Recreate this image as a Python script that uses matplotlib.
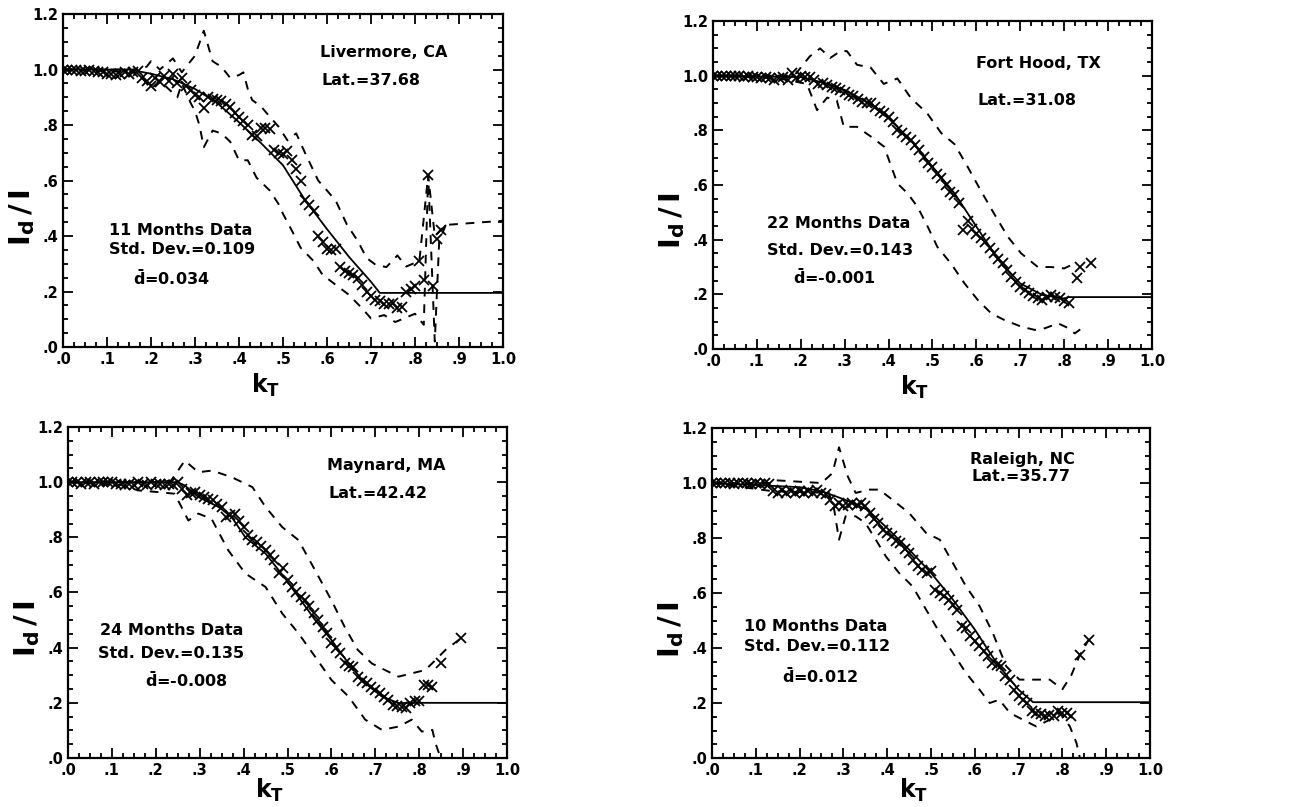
import matplotlib.pyplot as plt
from matplotlib.ticker import MultipleLocator, FuncFormatter

plt.rcParams['font.family'] = ['DejaVu Sans']
plt.rcParams['mathtext.fontset'] = 'dejavusans'

# ---------------- Livermore, CA ----------------
liv_kt = [0.00, 0.01, 0.02, 0.03, 0.04, 0.05, 0.06, 0.07, 0.08, 0.09,
          0.10, 0.11, 0.12, 0.13, 0.14, 0.15, 0.16, 0.17, 0.18, 0.19,
          0.20, 0.21, 0.22, 0.23, 0.24, 0.25, 0.26, 0.27, 0.28, 0.29,
          0.30, 0.31, 0.32, 0.33, 0.34, 0.35, 0.36, 0.37, 0.38, 0.39,
          0.40, 0.41, 0.42, 0.43, 0.44, 0.45, 0.46, 0.47, 0.48, 0.49,
          0.50, 0.51, 0.52, 0.53, 0.54, 0.55, 0.56, 0.57, 0.58, 0.59,
          0.60, 0.61, 0.62, 0.63, 0.64, 0.65, 0.66, 0.67, 0.68, 0.69,
          0.70, 0.71, 0.72, 0.73, 0.74, 0.75, 0.76, 0.77, 0.78, 0.79,
          0.80, 0.81, 0.82, 0.83, 0.84, 0.85, 0.86]
liv_val = [1.00, 1.00, 1.00, 1.00, 0.995, 0.995, 1.00, 0.995, 0.99, 0.99,
           0.985, 0.985, 0.98, 0.985, 0.99, 0.985, 0.99, 0.995, 0.97, 0.96,
           0.94, 0.97, 0.955, 0.975, 0.96, 0.985, 0.95, 0.97, 0.94, 0.925,
           0.91, 0.90, 0.86, 0.90, 0.895, 0.89, 0.885, 0.875, 0.865, 0.845,
           0.83, 0.815, 0.80, 0.765, 0.76, 0.79, 0.79, 0.785, 0.71, 0.70,
           0.695, 0.705, 0.675, 0.64, 0.60, 0.53, 0.51, 0.49, 0.40, 0.38,
           0.355, 0.35, 0.355, 0.29, 0.275, 0.265, 0.26, 0.25, 0.225, 0.20,
           0.185, 0.17, 0.165, 0.155, 0.155, 0.16, 0.14, 0.145, 0.20, 0.21,
           0.22, 0.31, 0.24, 0.62, 0.22, 0.39, 0.42]
liv_up_kt = [0.00, 0.17, 0.19, 0.20, 0.22, 0.25, 0.27, 0.29, 0.30, 0.32, 0.34, 0.36,
             0.38, 0.40, 0.41, 0.42, 0.43, 0.45, 0.47, 0.49, 0.51, 0.53, 0.55, 0.58,
             0.60, 0.62, 0.645, 0.67, 0.69, 0.71, 0.735, 0.76, 0.78, 0.81, 0.83,
             0.845, 0.87, 1.00]
liv_up = [1.00, 1.00, 1.01, 1.03, 1.00, 1.04, 0.99, 1.03, 1.05, 1.14, 1.03, 1.01,
          0.97, 0.98, 0.99, 0.93, 0.89, 0.867, 0.83, 0.794, 0.745, 0.77, 0.70, 0.60,
          0.564, 0.527, 0.442, 0.382, 0.321, 0.297, 0.288, 0.33, 0.29, 0.31, 0.62,
          0.40, 0.44, 0.455]
liv_lo_kt = [0.00, 0.17, 0.19, 0.20, 0.22, 0.24, 0.26, 0.27, 0.29, 0.30, 0.31, 0.32,
             0.34, 0.36, 0.38, 0.40, 0.42, 0.44, 0.47, 0.49, 0.50, 0.52, 0.54, 0.57,
             0.59, 0.62, 0.65, 0.68, 0.70, 0.73, 0.755, 0.775, 0.80, 0.82, 0.83,
             0.845, 0.855, 0.87]
liv_lo = [1.00, 0.99, 0.95, 0.93, 0.96, 0.93, 0.90, 0.95, 0.88, 0.85, 0.80, 0.72,
          0.78, 0.77, 0.74, 0.673, 0.673, 0.61, 0.564, 0.515, 0.48, 0.42, 0.358, 0.309,
          0.26, 0.224, 0.188, 0.139, 0.103, 0.115, 0.09, 0.103, 0.12, 0.08, 0.62,
          0.02, 0.38, 0.44]
liv_fit_kt = [0.00, 0.15, 0.20, 0.25, 0.30, 0.35, 0.40, 0.45, 0.50, 0.55, 0.60,
              0.65, 0.70, 0.72, 1.00]
liv_fit = [1.00, 1.00, 0.985, 0.965, 0.93, 0.88, 0.81, 0.735, 0.655, 0.53, 0.425,
           0.325, 0.235, 0.195, 0.195]

# ---------------- Fort Hood, TX ----------------
fh_kt = [0.00, 0.01, 0.02, 0.03, 0.04, 0.05, 0.06, 0.07, 0.08, 0.09,
         0.10, 0.11, 0.12, 0.13, 0.14, 0.15, 0.16, 0.17, 0.18, 0.19,
         0.20, 0.21, 0.22, 0.23, 0.24, 0.25, 0.26, 0.27, 0.28, 0.29,
         0.30, 0.31, 0.32, 0.33, 0.34, 0.35, 0.36, 0.37, 0.38, 0.39,
         0.40, 0.41, 0.42, 0.43, 0.44, 0.45, 0.46, 0.47, 0.48, 0.49,
         0.50, 0.51, 0.52, 0.53, 0.54, 0.55, 0.56, 0.57, 0.58, 0.59,
         0.60, 0.61, 0.62, 0.63, 0.64, 0.65, 0.66, 0.67, 0.68, 0.69,
         0.70, 0.71, 0.72, 0.73, 0.74, 0.75, 0.76, 0.77, 0.78, 0.79,
         0.80, 0.81, 0.83, 0.835, 0.86]
fh_val = [1.00, 1.00, 1.00, 1.00, 1.00, 1.00, 1.00, 0.995, 1.00, 0.995,
          0.995, 0.99, 0.995, 0.99, 0.985, 0.99, 0.995, 0.985, 1.01, 0.99,
          1.00, 0.995, 0.995, 0.985, 0.97, 0.975, 0.966, 0.96, 0.955, 0.948,
          0.94, 0.93, 0.925, 0.915, 0.905, 0.90, 0.90, 0.885, 0.87, 0.862,
          0.85, 0.83, 0.80, 0.79, 0.777, 0.765, 0.745, 0.728, 0.704, 0.68,
          0.667, 0.64, 0.625, 0.60, 0.575, 0.563, 0.533, 0.435, 0.47, 0.44,
          0.42, 0.405, 0.393, 0.37, 0.35, 0.33, 0.313, 0.29, 0.265, 0.245,
          0.228, 0.215, 0.204, 0.195, 0.185, 0.18, 0.19, 0.198, 0.19, 0.185,
          0.175, 0.167, 0.259, 0.30, 0.313]
fh_up_kt = [0.00, 0.18, 0.19, 0.22, 0.244, 0.267, 0.29, 0.305, 0.328, 0.359, 0.389,
            0.42, 0.45, 0.489, 0.52, 0.55, 0.58, 0.61, 0.64, 0.672, 0.702, 0.74,
            0.77, 0.80, 0.824]
fh_up = [1.00, 1.00, 1.01, 1.07, 1.10, 1.065, 1.09, 1.09, 1.04, 1.03, 0.97,
         0.99, 0.92, 0.86, 0.79, 0.75, 0.667, 0.58, 0.496, 0.41, 0.35, 0.30,
         0.30, 0.295, 0.313]
fh_lo_kt = [0.00, 0.15, 0.183, 0.214, 0.237, 0.26, 0.282, 0.298, 0.328, 0.36, 0.39,
            0.42, 0.443, 0.466, 0.489, 0.511, 0.542, 0.573, 0.603, 0.634, 0.664,
            0.702, 0.733, 0.756, 0.786, 0.81, 0.824, 0.84]
fh_lo = [1.00, 0.99, 0.98, 0.97, 0.874, 0.92, 0.91, 0.813, 0.813, 0.777, 0.74,
         0.606, 0.57, 0.52, 0.448, 0.374, 0.313, 0.24, 0.18, 0.13, 0.106,
         0.082, 0.07, 0.076, 0.094, 0.076, 0.057, 0.076]
fh_fit_kt = [0.00, 0.20, 0.25, 0.30, 0.35, 0.40, 0.45, 0.50, 0.55, 0.60, 0.65,
             0.70, 0.75, 0.80, 0.81, 1.00]
fh_fit = [1.00, 0.995, 0.975, 0.948, 0.905, 0.844, 0.765, 0.667, 0.57, 0.448, 0.326,
          0.24, 0.198, 0.185, 0.19, 0.19]

# ---------------- Maynard, MA ----------------
may_kt = [0.00, 0.01, 0.02, 0.03, 0.04, 0.05, 0.06, 0.07, 0.08, 0.09,
          0.10, 0.11, 0.12, 0.13, 0.14, 0.15, 0.16, 0.17, 0.18, 0.19,
          0.20, 0.21, 0.22, 0.23, 0.24, 0.25, 0.26, 0.27, 0.28, 0.29,
          0.30, 0.31, 0.32, 0.33, 0.34, 0.35, 0.36, 0.37, 0.38, 0.39,
          0.40, 0.41, 0.42, 0.43, 0.44, 0.45, 0.46, 0.47, 0.48, 0.49,
          0.50, 0.51, 0.52, 0.53, 0.54, 0.55, 0.56, 0.57, 0.58, 0.59,
          0.60, 0.61, 0.62, 0.63, 0.64, 0.65, 0.66, 0.67, 0.68, 0.69,
          0.70, 0.71, 0.72, 0.73, 0.74, 0.75, 0.76, 0.77, 0.78, 0.79,
          0.80, 0.81, 0.82, 0.83, 0.85, 0.895]
may_val = [1.00, 1.00, 1.00, 0.995, 1.00, 1.00, 0.995, 1.00, 1.00, 1.00,
           1.00, 0.995, 0.995, 0.99, 0.995, 0.99, 1.00, 0.995, 0.99, 1.00,
           0.995, 0.995, 0.99, 0.994, 0.99, 1.00, 0.976, 0.952, 0.96, 0.964,
           0.955, 0.946, 0.94, 0.934, 0.92, 0.91, 0.873, 0.88, 0.886, 0.86,
           0.837, 0.81, 0.789, 0.783, 0.77, 0.753, 0.735, 0.717, 0.669, 0.687,
           0.645, 0.62, 0.60, 0.584, 0.572, 0.55, 0.524, 0.50, 0.476, 0.452,
           0.416, 0.40, 0.38, 0.343, 0.335, 0.331, 0.295, 0.28, 0.271, 0.259,
           0.245, 0.235, 0.22, 0.211, 0.193, 0.187, 0.185, 0.18, 0.199, 0.205,
           0.205, 0.265, 0.265, 0.259, 0.343, 0.434]
may_up_kt = [0.00, 0.20, 0.235, 0.266, 0.297, 0.328, 0.373, 0.42, 0.45, 0.488, 0.525,
             0.563, 0.60, 0.63, 0.66, 0.692, 0.722, 0.753, 0.783, 0.814, 0.837,
             0.86, 0.895]
may_up = [1.00, 1.00, 1.006, 1.078, 1.036, 1.042, 1.018, 0.982, 0.91, 0.837, 0.79,
          0.68, 0.572, 0.476, 0.392, 0.343, 0.319, 0.295, 0.307, 0.319, 0.355,
          0.392, 0.434]
may_lo_kt = [0.00, 0.12, 0.16, 0.205, 0.243, 0.274, 0.297, 0.327, 0.365, 0.404, 0.45,
             0.488, 0.525, 0.563, 0.60, 0.639, 0.677, 0.715, 0.753, 0.783, 0.806,
             0.83, 0.837, 0.845]
may_lo = [1.00, 0.99, 0.97, 0.964, 0.958, 0.861, 0.886, 0.867, 0.753, 0.669, 0.62,
          0.524, 0.452, 0.367, 0.283, 0.223, 0.139, 0.102, 0.114, 0.139, 0.096,
          0.102, 0.054, 0.018]
may_fit_kt = [0.00, 0.25, 0.266, 0.297, 0.343, 0.373, 0.404, 0.45, 0.488, 0.525, 0.563,
              0.60, 0.639, 0.677, 0.715, 0.753, 0.79, 1.00]
may_fit = [1.00, 1.00, 0.988, 0.946, 0.91, 0.873, 0.80, 0.741, 0.665, 0.584, 0.50,
           0.428, 0.343, 0.271, 0.223, 0.199, 0.20, 0.20]

# ---------------- Raleigh, NC ----------------
ral_kt = [0.00, 0.01, 0.02, 0.03, 0.04, 0.05, 0.06, 0.07, 0.08, 0.09,
          0.10, 0.11, 0.12, 0.13, 0.14, 0.15, 0.16, 0.17, 0.18, 0.19,
          0.20, 0.21, 0.22, 0.23, 0.24, 0.25, 0.26, 0.27, 0.28, 0.29,
          0.30, 0.31, 0.32, 0.33, 0.34, 0.35, 0.36, 0.37, 0.38, 0.39,
          0.40, 0.41, 0.42, 0.43, 0.44, 0.45, 0.46, 0.47, 0.48, 0.49,
          0.50, 0.51, 0.52, 0.53, 0.54, 0.55, 0.56, 0.57, 0.58, 0.59,
          0.60, 0.61, 0.62, 0.63, 0.64, 0.65, 0.66, 0.67, 0.68, 0.69,
          0.70, 0.71, 0.72, 0.73, 0.74, 0.75, 0.76, 0.77, 0.78, 0.79,
          0.80, 0.81, 0.82, 0.84, 0.86]
ral_val = [1.00, 1.00, 1.00, 1.00, 1.00, 0.995, 1.00, 1.00, 1.00, 0.995,
           1.00, 0.995, 1.00, 0.995, 0.97, 0.965, 0.975, 0.965, 0.97, 0.964,
           0.97, 0.965, 0.97, 0.964, 0.975, 0.964, 0.96, 0.94, 0.915, 0.927,
           0.915, 0.92, 0.927, 0.92, 0.927, 0.915, 0.891, 0.87, 0.855, 0.83,
           0.818, 0.806, 0.79, 0.782, 0.76, 0.745, 0.721, 0.70, 0.685, 0.673,
           0.679, 0.612, 0.60, 0.588, 0.576, 0.555, 0.539, 0.479, 0.473, 0.442,
           0.425, 0.406, 0.39, 0.37, 0.345, 0.34, 0.333, 0.30, 0.285, 0.248,
           0.224, 0.21, 0.20, 0.17, 0.164, 0.16, 0.152, 0.155, 0.152, 0.17,
           0.164, 0.164, 0.152, 0.376, 0.43]
ral_up_kt = [0.00, 0.14, 0.145, 0.25, 0.275, 0.29, 0.31, 0.328, 0.359, 0.382, 0.412,
             0.45, 0.489, 0.52, 0.55, 0.58, 0.611, 0.641, 0.672, 0.702, 0.74,
             0.771, 0.80, 0.82, 0.84, 0.86]
ral_up = [1.00, 1.00, 1.01, 1.00, 1.036, 1.13, 1.024, 0.964, 0.976, 0.976, 0.939,
          0.891, 0.818, 0.794, 0.709, 0.624, 0.552, 0.455, 0.333, 0.285, 0.285,
          0.285, 0.25, 0.30, 0.376, 0.43]
ral_lo_kt = [0.00, 0.14, 0.25, 0.267, 0.279, 0.29, 0.305, 0.328, 0.35, 0.374, 0.397,
             0.427, 0.458, 0.489, 0.52, 0.55, 0.58, 0.611, 0.634, 0.656, 0.68,
             0.71, 0.74, 0.771, 0.794, 0.817, 0.832, 0.84]
ral_lo = [1.00, 0.97, 0.965, 0.964, 0.903, 0.794, 0.879, 0.879, 0.855, 0.794, 0.733,
          0.673, 0.624, 0.539, 0.455, 0.382, 0.309, 0.248, 0.20, 0.212, 0.164,
          0.139, 0.115, 0.139, 0.164, 0.115, 0.055, 0.0]
ral_fit_kt = [0.00, 0.20, 0.25, 0.282, 0.31, 0.355, 0.40, 0.45, 0.50, 0.55, 0.60,
              0.65, 0.70, 0.733, 1.00]
ral_fit = [1.00, 0.985, 0.97, 0.952, 0.935, 0.903, 0.836, 0.758, 0.673, 0.576, 0.467,
           0.345, 0.248, 0.203, 0.203]


def tick_fmt(v, pos):
    s = f"{v:.1f}"
    return s[1:] if s.startswith("0") else s


def draw_panel(ax, kt, val, up_kt, up, lo_kt, lo, fit_kt, fit, site, lat, notes, note_pos,
               head_pos, xlab_y):
    ax.plot(fit_kt, fit, color='black', lw=1.3)
    ax.plot(up_kt, up, color='black', lw=1.4, ls=(0, (4.5, 4)))
    ax.plot(lo_kt, lo, color='black', lw=1.4, ls=(0, (4.5, 4)))
    ax.plot(kt, val, ls='none', marker='x', color='black', ms=7.5, mew=1.3)

    ax.set_xlim(0, 1.0)
    ax.set_ylim(0, 1.2)
    ax.xaxis.set_major_locator(MultipleLocator(0.1))
    ax.xaxis.set_minor_locator(MultipleLocator(0.025))
    ax.yaxis.set_major_locator(MultipleLocator(0.2))
    ax.yaxis.set_minor_locator(MultipleLocator(0.05))
    ax.xaxis.set_major_formatter(FuncFormatter(tick_fmt))
    ax.yaxis.set_major_formatter(FuncFormatter(tick_fmt))
    ax.tick_params(which='both', direction='in', top=True, right=True, width=1.3)
    ax.tick_params(which='major', length=7, labelsize=10.5)
    ax.tick_params(which='minor', length=3.5)
    for lab in ax.get_xticklabels() + ax.get_yticklabels():
        lab.set_fontweight('bold')
    for sp in ax.spines.values():
        sp.set_linewidth(1.6)

    ax.set_ylabel(r'$\mathbf{I_d\,/\,I}$', fontsize=21)
    ax.yaxis.set_label_coords(-0.06, 0.39)
    ax.set_xlabel(r'$\mathbf{k_T}$', fontsize=17)
    ax.xaxis.set_label_coords(0.46, xlab_y)

    ax.text(head_pos[0], head_pos[1], site, fontsize=11.5, fontweight='bold', va='center')
    ax.text(head_pos[0] + 0.003, head_pos[2], lat, fontsize=11.5, fontweight='bold', va='center')
    for txt, (nx, ny) in zip(notes, note_pos):
        ax.text(nx, ny, txt, fontsize=11.5, fontweight='bold', va='center')


fig = plt.figure(figsize=(12.91, 8.07), dpi=100)
ax1 = fig.add_axes([0.0488, 0.570, 0.3408, 0.4126])
ax2 = fig.add_axes([0.5523, 0.5675, 0.3400, 0.4064])
ax3 = fig.add_axes([0.0527, 0.0607, 0.3400, 0.4102])
ax4 = fig.add_axes([0.5515, 0.0607, 0.3393, 0.4089])

draw_panel(ax1, liv_kt, liv_val, liv_up_kt, liv_up, liv_lo_kt, liv_lo, liv_fit_kt, liv_fit,
           'Livermore, CA', 'Lat.=37.68',
           ['11 Months Data', 'Std. Dev.=0.109', r'$\mathbf{\bar{d}}$=0.034'],
           [(0.105, 0.42), (0.105, 0.35), (0.16, 0.25)], (0.585, 1.06, 0.96), -0.075)
draw_panel(ax2, fh_kt, fh_val, fh_up_kt, fh_up, fh_lo_kt, fh_lo, fh_fit_kt, fh_fit,
           'Fort Hood, TX', 'Lat.=31.08',
           ['22 Months Data', 'Std. Dev.=0.143', r'$\mathbf{\bar{d}}$=-0.001'],
           [(0.122, 0.46), (0.122, 0.362), (0.183, 0.265)], (0.60, 1.045, 0.91), -0.075)
draw_panel(ax3, may_kt, may_val, may_up_kt, may_up, may_lo_kt, may_lo, may_fit_kt, may_fit,
           'Maynard, MA', 'Lat.=42.42',
           ['24 Months Data', 'Std. Dev.=0.135', r'$\mathbf{\bar{d}}$=-0.008'],
           [(0.073, 0.464), (0.069, 0.38), (0.176, 0.283)], (0.59, 1.06, 0.958), -0.057)
draw_panel(ax4, ral_kt, ral_val, ral_up_kt, ral_up, ral_lo_kt, ral_lo, ral_fit_kt, ral_fit,
           'Raleigh, NC', 'Lat.=35.77',
           ['10 Months Data', 'Std. Dev.=0.112', r'$\mathbf{\bar{d}}$=0.012'],
           [(0.073, 0.479), (0.073, 0.406), (0.16, 0.297)], (0.59, 1.085, 1.024), -0.057)

fig.savefig('out.png', dpi=100)
